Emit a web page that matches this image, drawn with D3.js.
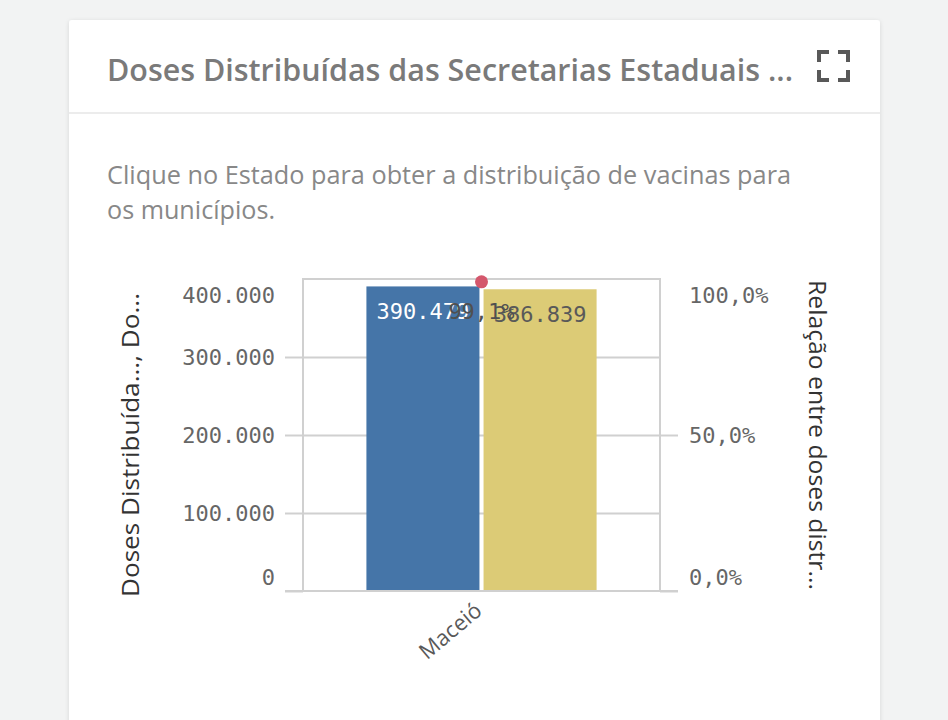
<!DOCTYPE html>
<html>
<head>
<meta charset="utf-8">
<script src="https://cdnjs.cloudflare.com/ajax/libs/d3/7.8.5/d3.min.js"></script>
<style>
  body { margin: 0; background: #f2f3f3; }
  .tick text { font-family: "DejaVu Sans Mono", monospace; font-size: 22px; fill: #666; }
</style>
</head>
<body>
<div id="chart"></div>
<script>
// values
var categories = ["Maceió"];
var seriesNames = ["Doses Distribuídas", "Doses Aplicadas"];
var dosesDistribuidas = [390479];
var dosesAplicadas = [386839];
var relacao = [0.991];
var leftTicks = [0, 100000, 200000, 300000, 400000];
var rightTicks = [0, 0.5, 1];
var seriesColors = ["#4575a8", "#dccb76"];

var W = 948, H = 720;
var plot = {left: 303, right: 660, top: 279, bottom: 591};

var ptBR = d3.formatLocale({decimal: ",", thousands: ".", grouping: [3], currency: ["R$", ""]});
var fmtNum = ptBR.format(",d");
var fmtPct = ptBR.format(".1%");

var svg = d3.select("#chart").append("svg")
  .attr("width", W).attr("height", H);

/* card */
var defs = svg.append("defs");
var f = defs.append("filter").attr("id", "shadow").attr("x", "-5%").attr("y", "-5%").attr("width", "110%").attr("height", "110%");
f.append("feDropShadow").attr("dx", 0).attr("dy", 1).attr("stdDeviation", 2).attr("flood-color", "#000").attr("flood-opacity", 0.12);

svg.append("rect").attr("width", W).attr("height", H).attr("fill", "#f2f3f3");
svg.append("rect").attr("x", 69).attr("y", 20).attr("width", 811).attr("height", 740)
  .attr("rx", 3).attr("fill", "#fff").attr("filter", "url(#shadow)");
svg.append("line").attr("x1", 69).attr("x2", 880).attr("y1", 113).attr("y2", 113)
  .attr("stroke", "#ececec").attr("stroke-width", 2);

svg.append("text").attr("x", 107).attr("y", 81)
  .attr("textLength", 686).attr("lengthAdjust", "spacingAndGlyphs")
  .style("font-family", "'Open Sans', sans-serif").style("font-weight", 600)
  .style("font-size", "31px").style("fill", "#7a7a7a")
  .text("Doses Distribuídas das Secretarias Estaduais ...");

/* expand icon */
var ic = svg.append("g").attr("fill", "none").attr("stroke", "#595959").attr("stroke-width", 4);
ic.append("path").attr("d", "M819,62 V52 H829");
ic.append("path").attr("d", "M838,52 H848 V62");
ic.append("path").attr("d", "M819,70 V80 H829");
ic.append("path").attr("d", "M838,80 H848 V70");

var desc = svg.append("g").style("font-family", "'Open Sans', sans-serif")
  .style("font-size", "26px").style("fill", "#888");
desc.append("text").attr("x", 107).attr("y", 184)
  .attr("textLength", 684).attr("lengthAdjust", "spacingAndGlyphs")
  .text("Clique no Estado para obter a distribuição de vacinas para");
desc.append("text").attr("x", 107).attr("y", 219)
  .attr("textLength", 168).attr("lengthAdjust", "spacingAndGlyphs")
  .text("os municípios.");

/* scales */
var y = d3.scaleLinear().domain([0, 400000]).range([plot.bottom, plot.top]);
var yR = d3.scaleLinear().domain([0, 1]).range([plot.bottom, plot.top]);
var x = d3.scaleBand().domain(categories).range([plot.left, plot.right]).padding(0.216);
var xs = d3.scaleBand().domain(seriesNames).range([0, x.bandwidth()]).paddingInner(0.035);

var gridColor = "#d0d0d0";

/* grid lines inside plot */
svg.append("g").attr("transform", "translate(" + plot.left + ",0)")
  .call(d3.axisLeft(y).tickValues([100000, 200000, 300000]).tickSize(-(plot.right - plot.left)).tickFormat(""))
  .call(function(g) {
    g.select(".domain").remove();
    g.selectAll("line").attr("stroke", gridColor).attr("stroke-width", 2);
  });

/* plot frame */
svg.append("path")
  .attr("d", "M" + plot.left + "," + plot.bottom + "V" + plot.top + "H" + plot.right + "V" + plot.bottom)
  .attr("fill", "none").attr("stroke", gridColor).attr("stroke-width", 2);

/* left axis */
svg.append("g").attr("transform", "translate(" + plot.left + ",0)")
  .call(d3.axisLeft(y).tickValues(leftTicks).tickSize(18).tickPadding(10).tickFormat(fmtNum))
  .call(function(g) {
    g.select(".domain").remove();
    g.selectAll(".tick line").attr("stroke", gridColor).attr("stroke-width", 2)
      .filter(function(d) { return d === 400000; }).remove();
    g.selectAll(".tick text").attr("dy", function(d) {
      return d === 0 ? "-0.3em" : d === 400000 ? "1.05em" : "0.35em";
    });
  });

/* right axis */
svg.append("g").attr("transform", "translate(" + plot.right + ",0)")
  .call(d3.axisRight(yR).tickValues(rightTicks).tickSize(18).tickPadding(11).tickFormat(fmtPct))
  .call(function(g) {
    g.select(".domain").remove();
    g.selectAll(".tick line").attr("stroke", gridColor).attr("stroke-width", 2)
      .filter(function(d) { return d === 1; }).remove();
    g.selectAll(".tick text").attr("dy", function(d) {
      return d === 0 ? "-0.3em" : d === 1 ? "1.05em" : "0.35em";
    });
  });

/* bars */
var barData = [];
categories.forEach(function(c, i) {
  barData.push({cat: c, s: seriesNames[0], v: dosesDistribuidas[i], color: seriesColors[0], label: "#fff"});
  barData.push({cat: c, s: seriesNames[1], v: dosesAplicadas[i], color: seriesColors[1], label: "#595959"});
});

svg.append("g").selectAll("rect").data(barData).join("rect")
  .attr("x", function(d) { return x(d.cat) + xs(d.s); })
  .attr("width", xs.bandwidth())
  .attr("y", function(d) { return y(d.v); })
  .attr("height", function(d) { return plot.bottom - y(d.v); })
  .attr("fill", function(d) { return d.color; });

/* baseline over bars */
svg.append("line").attr("x1", plot.left - 18).attr("x2", plot.right + 18)
  .attr("y1", plot.bottom).attr("y2", plot.bottom)
  .attr("stroke", gridColor).attr("stroke-width", 2);

svg.append("g").selectAll("text").data(barData).join("text")
  .attr("x", function(d) { return x(d.cat) + xs(d.s) + xs.bandwidth() / 2; })
  .attr("y", function(d) { return y(d.v) + 33; })
  .attr("text-anchor", "middle")
  .style("font-family", "'DejaVu Sans Mono', monospace").style("font-size", "22px")
  .style("fill", function(d) { return d.label; })
  .text(function(d) { return fmtNum(d.v); });

/* ratio line point + label */
var cx = function(c) { return x(c) + x.bandwidth() / 2; };
svg.append("g").selectAll("text").data(categories).join("text")
  .attr("x", function(c) { return cx(c); })
  .attr("y", function(c, i) { return y(dosesDistribuidas[i]) + 33; })
  .attr("text-anchor", "middle")
  .style("font-family", "'DejaVu Sans Mono', monospace").style("font-size", "22px")
  .style("fill", "#505050")
  .text(function(c, i) { return fmtPct(relacao[i]); });

svg.append("g").selectAll("circle").data(categories).join("circle")
  .attr("cx", function(c) { return cx(c); })
  .attr("cy", function(c, i) { return yR(relacao[i]); })
  .attr("r", 6.5)
  .attr("fill", "#d4576c");

/* x labels */
svg.append("g").selectAll("text").data(categories).join("text")
  .attr("transform", function(c) { return "translate(" + (cx(c) + 2) + "," + (plot.bottom + 22) + ") rotate(-40)"; })
  .attr("text-anchor", "end")
  .style("font-family", "'Open Sans', sans-serif").style("font-size", "22px")
  .style("fill", "#595959")
  .text(function(c) { return c; });

/* axis titles */
svg.append("text")
  .attr("transform", "translate(139," + ((292 + 598) / 2) + ") rotate(-90)")
  .attr("text-anchor", "middle")
  .attr("textLength", 304).attr("lengthAdjust", "spacingAndGlyphs")
  .style("font-family", "'Open Sans', sans-serif").style("font-size", "23px").style("fill", "#333")
  .text("Doses Distribuída..., Do...");

svg.append("text")
  .attr("transform", "translate(809," + ((280 + 590) / 2) + ") rotate(90)")
  .attr("text-anchor", "middle")
  .attr("textLength", 310).attr("lengthAdjust", "spacingAndGlyphs")
  .style("font-family", "'Open Sans', sans-serif").style("font-size", "23px").style("fill", "#333")
  .text("Relação entre doses distr...");
</script>
</body>
</html>
